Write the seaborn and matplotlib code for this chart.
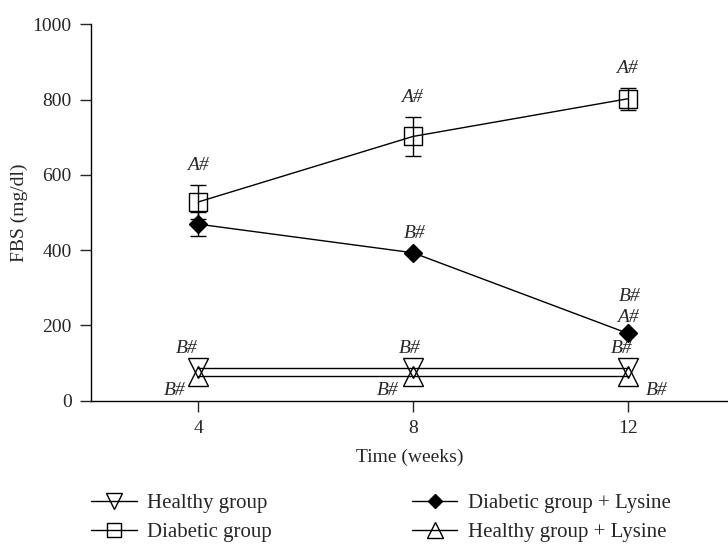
import numpy as np
import pandas as pd
import seaborn as sns
import matplotlib.pyplot as plt

# ----------------------------------------------------------------------------
# data
# ----------------------------------------------------------------------------
weeks = [4, 8, 12]

healthy = [88, 88, 88]
diabetic = [528, 702, 802]
diabetic_sd = [45, 52, 30]
diabetic_lys = [469, 393, 179]
diabetic_lys_sd = [31, 0, 0]
healthy_lys = [66, 66, 66]

group_names = ["Healthy group", "Diabetic group",
               "Diabetic group + Lysine", "Healthy group + Lysine"]

# ----------------------------------------------------------------------------
# style
# ----------------------------------------------------------------------------
sns.set_style("ticks")
plt.rcParams["font.family"] = ["Liberation Serif", "DejaVu Serif"]
plt.rcParams["font.size"] = 14
plt.rcParams["axes.linewidth"] = 1.0
plt.rcParams["xtick.major.size"] = 8
plt.rcParams["ytick.major.size"] = 8
plt.rcParams["xtick.major.width"] = 1.0
plt.rcParams["ytick.major.width"] = 1.0
plt.rcParams["xtick.major.pad"] = 6
plt.rcParams["ytick.major.pad"] = 6

df = pd.DataFrame({
    "week": weeks * 4,
    "fbs": healthy + diabetic + diabetic_lys + healthy_lys,
    "group": np.repeat(group_names, len(weeks)),
})

marker_styles = {
    "Healthy group": dict(marker="v", ms=14, mfc="none"),
    "Diabetic group": dict(marker="s", ms=13, mfc="none"),
    "Diabetic group + Lysine": dict(marker="D", ms=9, mfc="black"),
    "Healthy group + Lysine": dict(marker="^", ms=14, mfc="none"),
}

fig = plt.figure(figsize=(7.28, 5.44), dpi=100)
ax = fig.add_axes([0.125, 0.2634, 0.875, 0.692])

# ----------------------------------------------------------------------------
# draw lines + markers
# ----------------------------------------------------------------------------
for name in group_names:
    sub = df[df["group"] == name]
    sns.lineplot(data=sub, x="week", y="fbs", ax=ax, color="black",
                 linewidth=1.0, mec="black", mew=1.0, label=name,
                 **marker_styles[name])

# error bars (only where visible in the original)
for means, sds in [(diabetic, diabetic_sd), (diabetic_lys, diabetic_lys_sd)]:
    for w, m, s in zip(weeks, means, sds):
        if s > 0:
            ax.errorbar(w, m, yerr=s, fmt="none", ecolor="black",
                        elinewidth=1.0, capsize=6, capthick=1.0, zorder=1)

# ----------------------------------------------------------------------------
# significance letters
# ----------------------------------------------------------------------------
def mark(text, x, y, dx, dy):
    ax.annotate(text, xy=(x, y), xytext=(dx, dy), textcoords="offset points",
                ha="center", va="center", style="italic", fontsize=14)

for w, m, s in zip(weeks, diabetic, diabetic_sd):
    mark("A#", w, m + s, -0.5, 14)

mark("B#", 8, diabetic_lys[1], 1.5, 14)
mark("A#", 12, diabetic_lys[2], 0, 11.5)
mark("B#", 12, diabetic_lys[2], 1.5, 26.5)

for w, dx in zip(weeks, [-8.5, -2.5, -4]):
    mark("B#", w, healthy[weeks.index(w)], dx, 14)
for w, dx in zip(weeks, [-17, -18, 21]):
    mark("B#", w, healthy_lys[weeks.index(w)], dx, -10.5)

# ----------------------------------------------------------------------------
# axes
# ----------------------------------------------------------------------------
ax.set_xlim(2, 13.87)
ax.set_ylim(0, 1000)
ax.set_xticks(weeks)
ax.set_yticks(range(0, 1001, 200))
ax.set_xlabel("Time (weeks)", labelpad=8)
ax.set_ylabel("FBS (mg/dl)", labelpad=3)
sns.despine(ax=ax)
for sp in ax.spines.values():
    sp.set_color("black")

ax.legend(ncol=2, frameon=False, loc="upper left",
          bbox_to_anchor=(0.125, 0.093), bbox_transform=fig.transFigure,
          borderpad=0, borderaxespad=0, handlelength=2.2, handletextpad=0.5,
          columnspacing=6.7, labelspacing=0.45, markerscale=0.8, fontsize=15)

fig.savefig("out.png", dpi=100)
